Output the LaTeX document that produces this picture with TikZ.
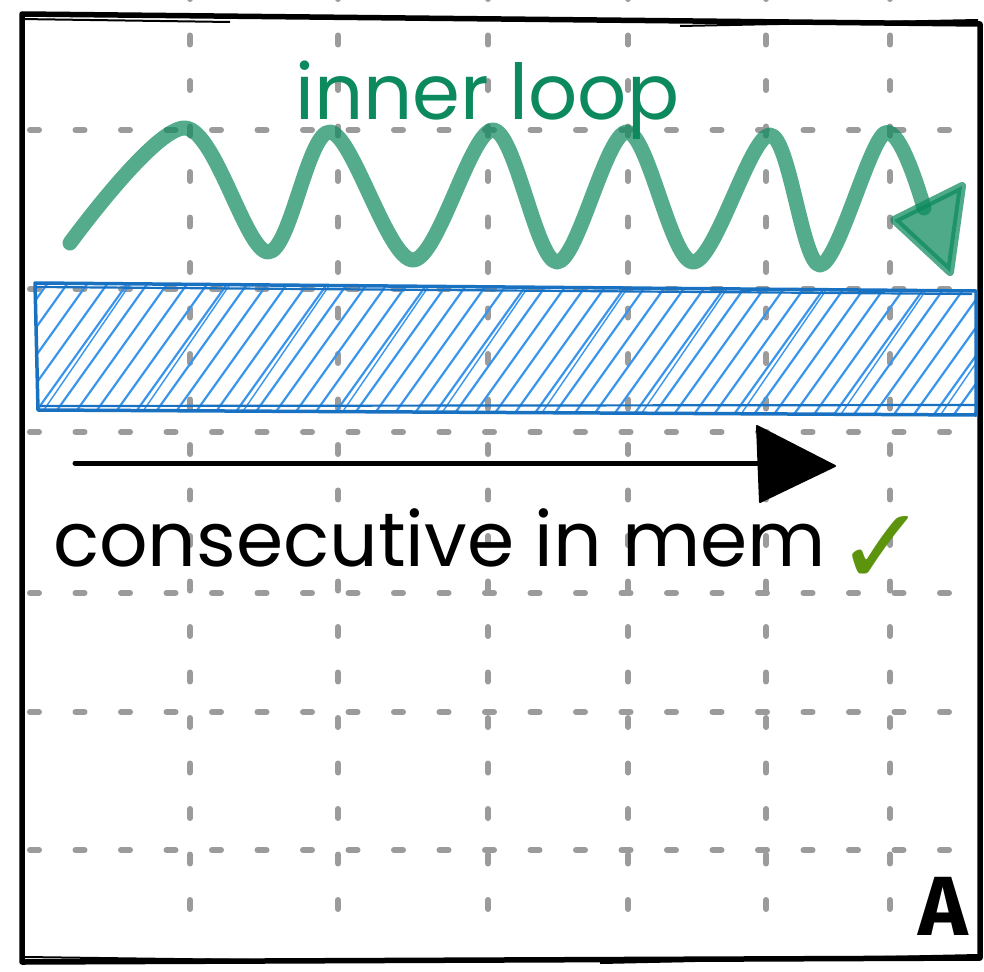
\documentclass[tikz,border=0pt]{standalone}
\usepackage{fontspec}
\setmainfont{Poppins}
\newfontfamily\checkfont{DejaVu Sans}
\newfontfamily\labelfont{Fira Sans}
\definecolor{gridgray}{RGB}{155,155,155}
\definecolor{innergreen}{HTML}{0C8A5E}
\definecolor{boxblue}{HTML}{1971C2}
\definecolor{hatchblue}{HTML}{3A95EC}
\definecolor{checkgreen}{HTML}{5C940D}
\tikzset{
  gridline/.style={draw=gridgray, line width=6pt, line cap=round, dash pattern=on 9pt off 36.5pt},
  framestroke/.style={draw=black, line width=5.5pt, line join=round},
  framethin/.style={draw=black, line width=2pt},
  boxstroke/.style={draw=boxblue, line width=3.5pt, line join=round},
  hatchline/.style={draw=hatchblue, line width=2.2pt, line cap=round},
  wavestroke/.style={draw=innergreen, line width=15pt, line cap=round, line join=round, opacity=0.7},
  wavetip/.style={draw=innergreen, fill=innergreen, line width=8pt, line join=round, opacity=0.72},
  memarrow/.style={draw=black, line width=5pt, line cap=round},
  memtip/.style={fill=black, draw=black, line width=2pt, line join=round},
  textlabel/.style={inner sep=0pt, anchor=base west}
}
\begin{document}
\begin{tikzpicture}[x=1pt,y=-1pt]
\useasboundingbox (0,0) rectangle (984,971);
\fill[white] (0,0) rectangle (984,971);

% grid
\foreach \x in {190,338,488,628,766,890}
  \draw[gridline] (\x,-10) -- (\x,945);
\foreach \y in {130,289,432,593,712,850}
  \draw[gridline] (30,\y) -- (975,\y);

% frame
\draw[framestroke] (22,14) -- (980,24) -- (980,958) -- (22,962) -- cycle;
\draw[framethin] (20,19) -- (230,22) (680,26) -- (978,20) (25,957) -- (250,960) (600,963) -- (978,955);

% hatched box
\begin{scope}
  \clip (35,283) -- (976,291) -- (976,415) -- (38,410) -- cycle;
  \foreach \x in {-110,-90,...,980}
    \draw[hatchline] (\x,420) -- ++(100,-140);
  \foreach \x in {-63,37,...,980}
    \draw[hatchline, line width=1.4pt] (\x,420) -- ++(96,-140);
\end{scope}
\draw[boxstroke] (35,283) -- (976,291) -- (976,415) -- (38,410) -- cycle;
\draw[boxstroke, line width=2.2pt] (37,287) -- (972,294) (40,406) -- (976,405);

% wave
\coordinate (wstart) at (70,243);
\coordinate (wend) at (924,208);
\coordinate (tipA) at (894,220);
\coordinate (tipB) at (962,186);
\coordinate (tipC) at (950,272);
\draw[wavestroke] plot[smooth, tension=0.55] coordinates {
  (wstart) (185,128) (268,252) (330,132) (413,260) (493,130) (557,262)
  (627,132) (693,262) (770,135) (820,265) (885,133) (wend)};
\draw[wavetip] (tipA) -- (tipB) -- (tipC) -- cycle;

% memory arrow
\coordinate (mstart) at (75,463);
\coordinate (mend) at (760,463);
\coordinate (mtipT) at (757,426);
\coordinate (mtip) at (835,466);
\coordinate (mtipB) at (760,502);
\draw[memarrow] (mstart) -- (mend);
\draw[memtip] (mtipT) -- (mtip) -- (mtipB) -- cycle;

% texts
\node[textlabel, text=innergreen, font=\fontsize{77}{80}\selectfont] (inner) at (295,120) {inner loop};
\node[textlabel, font=\fontsize{76}{80}\selectfont] (consec) at (53,566) {consecutive in mem};
\node[textlabel, text=checkgreen, font=\checkfont\fontsize{108}{108}\selectfont] (check) at (836,584) {✓};
\node[inner sep=0pt, anchor=base east, font=\labelfont\bfseries\fontsize{84}{84}\selectfont] (labelA) at (968,935) {A};
\end{tikzpicture}
\end{document}
